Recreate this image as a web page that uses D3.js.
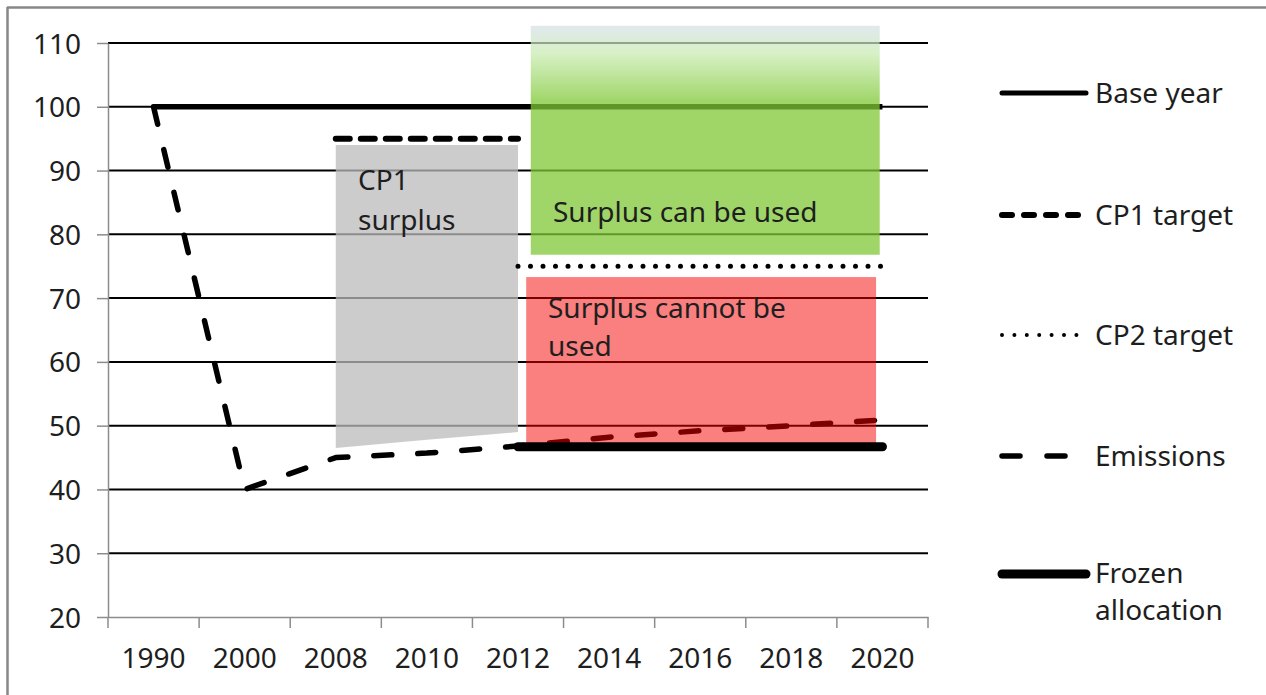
<!DOCTYPE html>
<html>
<head>
<meta charset="utf-8">
<script src="https://cdn.jsdelivr.net/npm/d3@7"></script>
<style>
  html, body { margin: 0; padding: 0; background: #fff; }
  svg { display: block; font-family: "Noto Sans", "Open Sans", sans-serif; }
</style>
</head>
<body>
<svg id="chart" width="1266" height="695"></svg>
<script>
// ---- Data ----
const categories = ["1990", "2000", "2008", "2010", "2012", "2014", "2016", "2018", "2020"];
const yTicks = [20, 30, 40, 50, 60, 70, 80, 90, 100, 110];

const baseYear  = [100, 100, 100, 100, 100, 100, 100, 100, 100];
const cp1Target = [null, null, 95, 95, 95, null, null, null, null];
const cp2Target = [null, null, null, null, 75, 75, 75, 75, 75];
const emissions = [100, 40, 45, 45.7, 46.8, 48.2, 49.2, 50, 50.9];
const frozenAllocation = [null, null, null, null, 46.7, 46.7, 46.7, 46.7, 46.7];

// CP1 surplus area (between bottom and top)
const cp1SurplusTop    = [null, null, 94, 94, 94, null, null, null, null];
const cp1SurplusBottom = [null, null, 46.5, 47.8, 49.0, null, null, null, null];

// Rectangular zones (category-index positions on the x axis, values on y)
const zoneNames = ["Surplus can be used", "Surplus cannot be used"];
const zoneStart = [4.14, 4.09];
const zoneEnd   = [7.97, 7.93];
const zoneLow   = [76.8, 46.7];
const zoneHigh  = [112.7, 73.3];

const legendNames = ["Base year", "CP1 target", "CP2 target", "Emissions", "Frozen allocation"];

// ---- Layout ----
const svg = d3.select("#chart");
const plotLeft = 108, plotRight = 928, plotTop = 43, plotBottom = 617;

const x = d3.scaleBand().domain(categories).range([plotLeft, plotRight]).padding(0);
const xc = c => x(c) + x.bandwidth() / 2;
const xIdx = d3.scaleLinear().domain([-0.5, categories.length - 0.5]).range([plotLeft, plotRight]);
const y = d3.scaleLinear().domain([20, 110]).range([plotBottom, plotTop]);

const textColor = "#1e1e1e";
const axisColor = "#8c8c8c";

// Outer frame (top & left edges visible)
svg.append("line").attr("x1", 7).attr("x2", 1266).attr("y1", 7.5).attr("y2", 7.5)
  .attr("stroke", "#878787").attr("stroke-width", 2.5);
svg.append("line").attr("x1", 7.5).attr("x2", 7.5).attr("y1", 7).attr("y2", 695)
  .attr("stroke", "#878787").attr("stroke-width", 2.5);

// Defs: gradient for green zone
const defs = svg.append("defs");
const grad = defs.append("linearGradient").attr("id", "greenGrad")
  .attr("x1", 0).attr("y1", 0).attr("x2", 0).attr("y2", 1);
grad.append("stop").attr("offset", 0).attr("stop-color", "rgb(212,222,231)").attr("stop-opacity", 0.7);
grad.append("stop").attr("offset", 0.12).attr("stop-color", "rgb(200,235,175)").attr("stop-opacity", 0.72);
grad.append("stop").attr("offset", 0.33).attr("stop-color", "rgb(128,200,54)").attr("stop-opacity", 0.75);
grad.append("stop").attr("offset", 1).attr("stop-color", "rgb(128,200,54)").attr("stop-opacity", 0.75);

// Gridlines
svg.append("g").selectAll("line").data(yTicks.filter(v => v > 20)).join("line")
  .attr("x1", plotLeft).attr("x2", plotRight)
  .attr("y1", d => y(d)).attr("y2", d => y(d))
  .attr("stroke", "#000").attr("stroke-width", 2);

// Y axis
const yAxis = svg.append("g").attr("transform", `translate(${plotLeft},0)`)
  .call(d3.axisLeft(y).tickValues(yTicks).tickSize(11).tickSizeOuter(0).tickPadding(16));
yAxis.select(".domain").attr("stroke", axisColor).attr("stroke-width", 1.5);
yAxis.selectAll(".tick line").attr("stroke", axisColor).attr("stroke-width", 1.5);
yAxis.selectAll(".tick text").attr("font-size", 28).attr("fill", textColor)
  .attr("font-family", "Noto Sans").attr("dy", "0.36em");

// X axis
const xAxis = svg.append("g").attr("transform", `translate(0,${plotBottom})`)
  .call(d3.axisBottom(x).tickSize(0).tickSizeOuter(0).tickPadding(31));
xAxis.select(".domain").attr("stroke", axisColor).attr("stroke-width", 1.5);
xAxis.selectAll(".tick text").attr("font-size", 28).attr("fill", textColor)
  .attr("font-family", "Noto Sans");
// boundary ticks
const bounds = categories.map(c => x(c)).concat([x(categories[categories.length - 1]) + x.bandwidth()]);
svg.append("g").selectAll("line").data(bounds).join("line")
  .attr("x1", d => d).attr("x2", d => d)
  .attr("y1", plotBottom).attr("y2", plotBottom + 11)
  .attr("stroke", axisColor).attr("stroke-width", 1.5);

// Line generator
const lineGen = d3.line()
  .defined(d => d.v !== null)
  .x(d => xc(d.c)).y(d => y(d.v));
const series = arr => categories.map((c, i) => ({ c, v: arr[i] }));

// Base year
svg.append("path").datum(series(baseYear)).attr("d", lineGen)
  .attr("fill", "none").attr("stroke", "#000").attr("stroke-width", 5.5);

// Emissions
svg.append("path").datum(series(emissions)).attr("d", lineGen)
  .attr("fill", "none").attr("stroke", "#000").attr("stroke-width", 5.5)
  .attr("stroke-linecap", "round").attr("stroke-linejoin", "round")
  .attr("stroke-dasharray", "18,26");

// CP1 target
svg.append("path").datum(series(cp1Target)).attr("d", lineGen)
  .attr("fill", "none").attr("stroke", "#000").attr("stroke-width", 6)
  .attr("stroke-linecap", "round").attr("stroke-dasharray", "14,11");

// CP1 surplus area
const areaGen = d3.area()
  .defined((d, i) => cp1SurplusTop[i] !== null)
  .x(d => xc(d.c)).y0(d => y(d.lo)).y1(d => y(d.hi));
svg.append("path")
  .datum(categories.map((c, i) => ({ c, lo: cp1SurplusBottom[i], hi: cp1SurplusTop[i] })))
  .attr("d", areaGen)
  .attr("fill", "rgb(187,187,187)").attr("fill-opacity", 0.75);

// Zones
const zoneFill = ["url(#greenGrad)", "rgba(245,0,0,0.5)"];
svg.append("g").selectAll("rect").data(zoneNames).join("rect")
  .attr("x", (d, i) => xIdx(zoneStart[i]))
  .attr("width", (d, i) => xIdx(zoneEnd[i]) - xIdx(zoneStart[i]))
  .attr("y", (d, i) => y(zoneHigh[i]))
  .attr("height", (d, i) => y(zoneLow[i]) - y(zoneHigh[i]))
  .attr("fill", (d, i) => zoneFill[i]);

// CP2 target (dotted)
svg.append("path").datum(series(cp2Target)).attr("d", lineGen)
  .attr("fill", "none").attr("stroke", "#000").attr("stroke-width", 5)
  .attr("stroke-linecap", "round").attr("stroke-dasharray", "0,12.5");

// Frozen allocation
svg.append("path").datum(series(frozenAllocation)).attr("d", lineGen)
  .attr("fill", "none").attr("stroke", "#000").attr("stroke-width", 9)
  .attr("stroke-linecap", "round");

// In-chart labels
function multiText(lines, tx, ty, lh) {
  const t = svg.append("text").attr("x", tx).attr("y", ty)
    .attr("font-size", 28).attr("fill", textColor).attr("font-family", "Noto Sans");
  lines.forEach((s, i) => t.append("tspan").attr("x", tx).attr("dy", i === 0 ? 0 : lh).text(s));
}
multiText(["CP1", "surplus"], 358, 190, 40);
multiText([zoneNames[0]], 553, 222, 38);
multiText(["Surplus cannot be", "used"], 548, 318, 38);

// Legend
const legY = [93, 215, 335, 456, 574];
const legStyles = [
  { w: 5, dash: null, cap: "round", x2: 1088 },
  { w: 6, dash: "10,12", cap: "round", x2: 1088 },
  { w: 4, dash: "0,12.4", cap: "round", x2: 1081 },
  { w: 5.5, dash: "18,27", cap: "round", x2: 1068 },
  { w: 9, dash: null, cap: "round", x2: 1088 }
];
const lg = svg.append("g");
legendNames.forEach((name, i) => {
  const st = legStyles[i];
  const ln = lg.append("line").attr("x1", 1002).attr("x2", st.x2 - 2)
    .attr("y1", legY[i]).attr("y2", legY[i])
    .attr("stroke", "#000").attr("stroke-width", st.w).attr("stroke-linecap", st.cap);
  if (st.dash) ln.attr("stroke-dasharray", st.dash);
  const t = lg.append("text").attr("x", 1095).attr("y", legY[i] + 10)
    .attr("font-size", 28).attr("fill", textColor).attr("font-family", "Noto Sans");
  if (name === "Frozen allocation") {
    t.attr("y", legY[i] + 9);
    t.append("tspan").attr("x", 1095).text("Frozen");
    t.append("tspan").attr("x", 1095).attr("dy", 37).text("allocation");
  } else {
    t.text(name);
  }
});
</script>
</body>
</html>
